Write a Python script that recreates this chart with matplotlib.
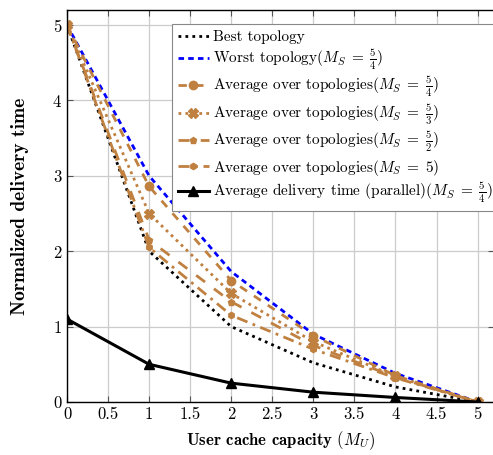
import matplotlib
matplotlib.use("Agg")
import matplotlib.pyplot as plt

plt.rcParams['font.family'] = ['cmr10', 'DejaVu Serif']
plt.rcParams['mathtext.fontset'] = 'cm'
plt.rcParams['axes.formatter.use_mathtext'] = True

x = [0, 1, 2, 3, 4, 5]
best = [5, 2.0, 1.0, 0.52, 0.2, 0]
worst = [5, 3.0, 1.73, 0.9, 0.38, 0]
avg_54 = [5, 2.86, 1.61, 0.88, 0.35, 0]
avg_53 = [5, 2.5, 1.44, 0.8, 0.34, 0]
avg_52 = [5, 2.15, 1.33, 0.75, 0.33, 0]
avg_5 = [5, 2.05, 1.15, 0.7, 0.32, 0]
parallel = [1.1, 0.5, 0.25, 0.13, 0.06, 0]

xticks = [0, 0.5, 1, 1.5, 2, 2.5, 3, 3.5, 4, 4.5, 5]
xticklabels = ['0', '0.5', '1', '1.5', '2', '2.5', '3', '3.5', '4', '4.5', '5']
yticks = [0, 1, 2, 3, 4, 5]

brown = '#BF8040'

fig = plt.figure(figsize=(4.93, 4.55), dpi=100)
ax = fig.add_axes([67/493, 1 - 402/455, 427/493, 392/455])

ax.plot(x, best, color='black', linestyle=(0, (1, 1.5)), lw=2.0,
        label='Best topology')
ax.plot(x, worst, color='blue', linestyle=(0, (2, 1.5)), lw=2.0,
        label=r'Worst topology$(M_S\;=\;\frac{5}{4})$')
ax.plot(x, avg_54, color=brown, linestyle=(0, (3, 3)), lw=2.0, marker='o', ms=6,
        label=r'Average over topologies$(M_S\;=\;\frac{5}{4})$')
ax.plot(x, avg_53, color=brown, linestyle=(0, (1, 1.5)), lw=2.0, marker='X', ms=7,
        label=r'Average over topologies$(M_S\;=\;\frac{5}{3})$')
ax.plot(x, avg_52, color=brown, linestyle=(0, (4, 4)), lw=2.0, marker='p', ms=5,
        label=r'Average over topologies$(M_S\;=\;\frac{5}{2})$')
ax.plot(x, avg_5, color=brown, linestyle=(0, (4, 2, 1, 2)), lw=2.0, marker='h', ms=4.5,
        label=r'Average over topologies$(M_S\;=\;5)$')
ax.plot(x, parallel, color='black', linestyle='-', lw=2.2, marker='^', ms=7,
        label=r'Average delivery time (parallel)$(M_S\;=\;\frac{5}{4})$')

ax.set_xlim(0, 5.2)
ax.set_ylim(0, 5.2)
ax.set_xticks(xticks)
ax.set_xticklabels(xticklabels)
ax.set_yticks(yticks)
ax.tick_params(direction='in', top=True, right=True, labelsize=12, length=4, color='#555555')
ax.grid(True, color='#cccccc', lw=0.9)
ax.set_axisbelow(True)
for s in ax.spines.values():
    s.set_linewidth(1.0)

ax.set_xlabel(r'User cache capacity $(M_U)$', fontsize=12, fontfamily='cmb10', labelpad=5)
ax.set_ylabel('Normalized delivery time', fontsize=14, fontfamily='cmb10', labelpad=17)

leg = ax.legend(loc='upper left', bbox_to_anchor=(105/427, 1 - 14/392), fontsize=11,
                frameon=True, fancybox=False, edgecolor='#888888', framealpha=1,
                handlelength=2.0, handletextpad=0.3, labelspacing=0.22, borderpad=0.4,
                borderaxespad=0)
leg.get_frame().set_linewidth(0.8)

fig.savefig('out.png', dpi=100)
